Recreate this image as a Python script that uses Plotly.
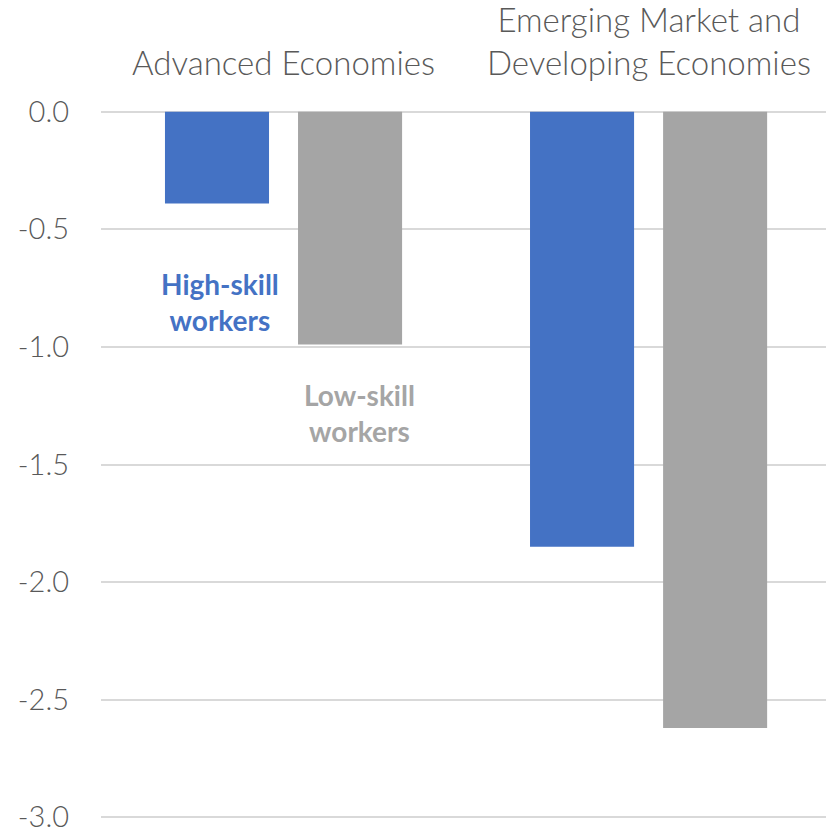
import plotly.graph_objects as go

categories = ["Advanced Economies", "Emerging Market and<br>Developing Economies"]
high_skill = [-0.39, -1.85]
low_skill = [-0.99, -2.62]
tick_vals = [0.0, -0.5, -1.0, -1.5, -2.0, -2.5, -3.0]
tick_text = ["0.0", "-0.5", "-1.0", "-1.5", "-2.0", "-2.5", "-3.0"]

BLUE = "#4472C4"
GRAY = "#A5A5A5"
TXT = "#595959"
FONT = "Lato"

xpos = list(range(len(categories)))

fig = go.Figure()
fig.add_trace(go.Bar(x=xpos, y=high_skill, marker=dict(color=BLUE, line=dict(width=0)),
                     name="High-skill workers"))
fig.add_trace(go.Bar(x=xpos, y=low_skill, marker=dict(color=GRAY, line=dict(width=0)),
                     name="Low-skill workers"))

annotations = []
for i, c in enumerate(categories):
    annotations.append(dict(x=i, xref="x", y=1, yref="paper", yanchor="bottom",
                            yshift=23, text=c, showarrow=False,
                            font=dict(family=FONT, size=33, color=TXT, weight=300)))
annotations.append(dict(x=-0.174, xref="x", y=-0.81, yref="y", text="<b>High-skill<br>workers</b>",
                        showarrow=False, font=dict(family=FONT, size=28, color=BLUE)))
annotations.append(dict(x=0.207, xref="x", y=-1.28, yref="y", text="<b>Low-skill<br>workers</b>",
                        showarrow=False, font=dict(family=FONT, size=28, color=GRAY)))

fig.update_layout(
    width=826, height=827,
    margin=dict(l=101, r=0, t=107, b=5),
    paper_bgcolor="white", plot_bgcolor="white",
    barmode="group", bargap=0.271, bargroupgap=0.218,
    showlegend=False,
    annotations=annotations,
    font=dict(family=FONT, color=TXT),
)
fig.update_xaxes(range=[-0.5, 1.486], showticklabels=False, showgrid=False,
                 zeroline=False, showline=False, ticks="", automargin=False)
fig.update_yaxes(range=[-3.02, 0.02], tickvals=tick_vals, ticktext=tick_text,
                 showgrid=True, gridcolor="#D9D9D9", gridwidth=1.5,
                 zeroline=False, showline=False, ticks="", automargin=False,
                 ticklabelstandoff=31, ticklabeloverflow="allow",
                 tickfont=dict(family=FONT, size=29, color=TXT, weight=300))

fig.write_html("out.html", config={"displayModeBar": False},
               post_script="document.body.style.margin='0';")
